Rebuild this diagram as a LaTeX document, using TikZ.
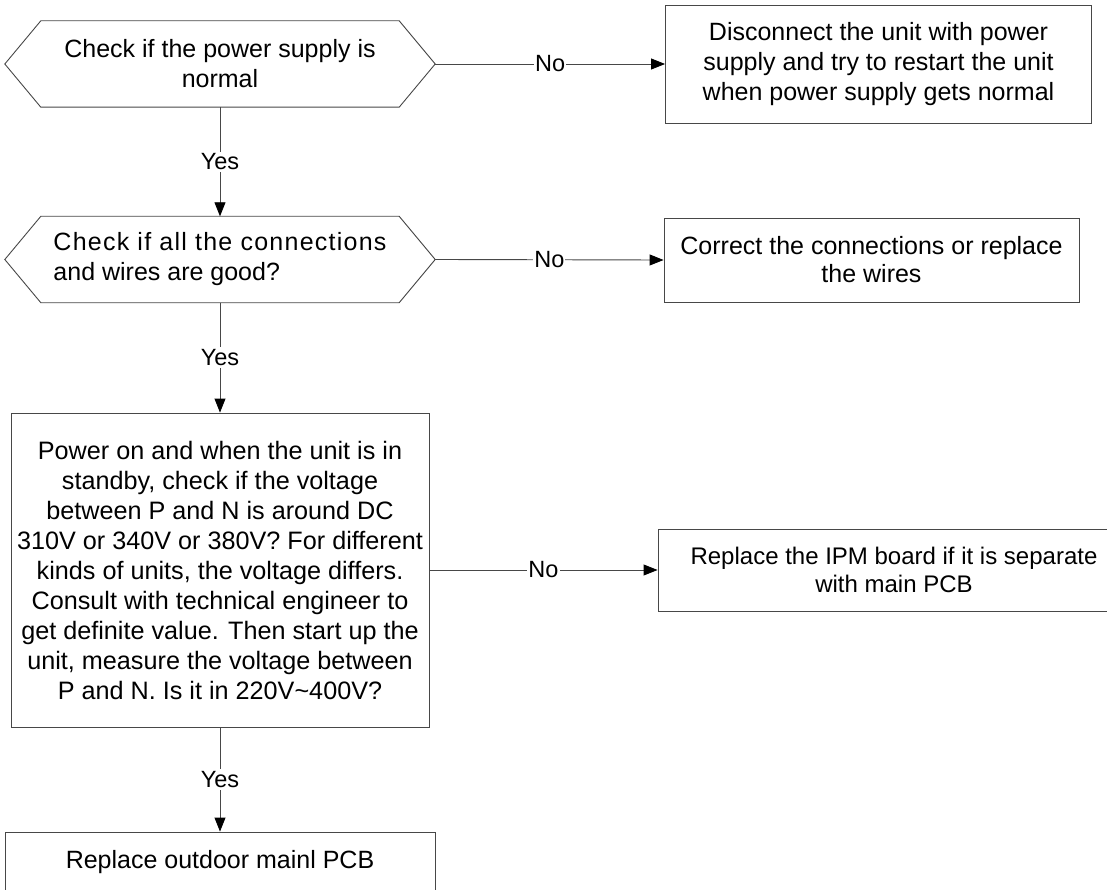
\documentclass[tikz,border=0pt]{standalone}
\usepackage{fontspec}
\setmainfont{Liberation Sans}
\usetikzlibrary{arrows.meta}
\begin{document}
\begin{tikzpicture}[x=1pt,y=-1pt,
  ln/.style={draw=black!72, line width=0.9pt},
  txt/.style={font=\fontsize{25}{30}\selectfont, text=black, inner sep=0pt, align=center},
  box/.style={txt, ln, rectangle},
  hexa/.style={txt, rectangle, minimum width=430pt, minimum height=86pt},
  arr/.style={ln, -{Triangle[length=14pt,width=11pt,color=black]}},
  lbl/.style={font=\fontsize{23.5}{23.5}\selectfont, fill=white, inner xsep=1pt, inner ysep=2pt, text=black}]
\useasboundingbox (0,0) rectangle (1107,890);
\clip (0,0) rectangle (1107,890);

% decisions
\node[hexa] (h1) at (220,64) {Check if the power supply is\\normal};
\draw[ln] (h1.west) -- ([xshift=36pt]h1.north west) -- ([xshift=-36pt]h1.north east) -- (h1.east)
  -- ([xshift=-36pt]h1.south east) -- ([xshift=36pt]h1.south west) -- cycle;

\node[hexa, align=left] (h2) at (220,259.5) {{\addfontfeatures{LetterSpace=5}Check if all the connections}\\and wires are good?};
\draw[ln] (h2.west) -- ([xshift=36pt]h2.north west) -- ([xshift=-36pt]h2.north east) -- (h2.east)
  -- ([xshift=-36pt]h2.south east) -- ([xshift=36pt]h2.south west) -- cycle;

\node[box, font=\fontsize{25.2}{30}\selectfont, minimum width=418pt, minimum height=314pt] (b3) at (220,570)
  {Power on and when the unit is in\\standby, check if the voltage\\between P and N is around DC\\310V or 340V or 380V? For different\\kinds of units, the voltage differs.\\Consult with technical engineer to\\get definite value. Then start up the\\unit, measure the voltage between\\P and N. Is it in 220V\textasciitilde 400V?};

\node[box, minimum width=430pt, minimum height=60pt] (b4) at (220,862) {Replace outdoor mainl PCB};

% actions
\node[box, minimum width=426pt, minimum height=118pt] (r1) at (878.5,64)
  {Disconnect the unit with power\\supply and try to restart the unit\\when power supply gets normal};
\node[box, font=\fontsize{25}{28}\selectfont, minimum width=415pt, minimum height=84pt] (r2) at (871.5,260)
  {Correct the connections or replace\\the wires};
\node[box, font=\fontsize{24}{28}\selectfont, minimum width=472pt, minimum height=82pt] (r3) at (894,570)
  {Replace the IPM board if it is separate\\with main PCB};

% connectors
\draw[arr] (h1.south) -- node[lbl]{Yes} (h2.north);
\draw[arr] (h2.south) -- node[lbl]{Yes} (b3.north);
\draw[arr] (b3.south) -- node[lbl]{Yes} (b4.north);
\draw[arr] (h1.east) -- node[lbl]{No} (r1.west);
\draw[arr] (h2.east) -- node[lbl]{No} (r2.west);
\draw[arr] (b3.east) -- node[lbl]{No} (r3.west);
\end{tikzpicture}
\end{document}
